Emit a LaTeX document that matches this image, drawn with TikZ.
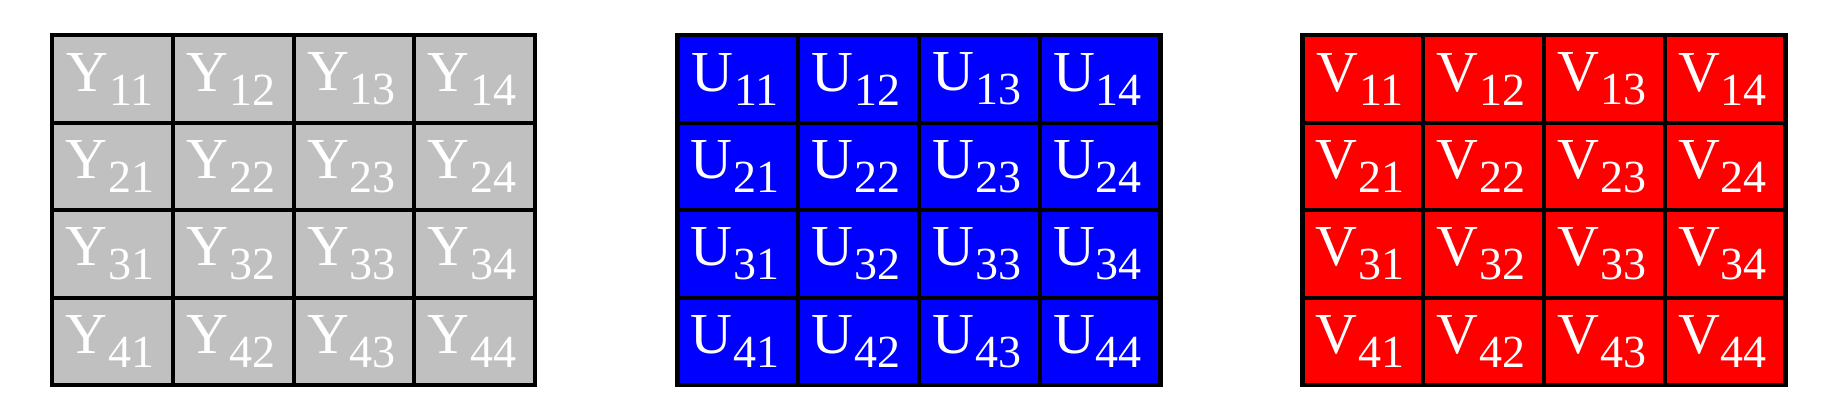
\documentclass[tikz,border=0pt]{standalone}
\usepackage{fontspec}
\setmainfont{Liberation Serif}
\definecolor{gY}{RGB}{192,192,192}
\definecolor{gU}{RGB}{0,0,255}
\definecolor{gV}{RGB}{255,0,0}
\newcommand\celltxt[2]{#1\kern1pt\raisebox{-14pt}{\fontsize{46}{46}\selectfont #2}\kern5pt}
\begin{document}
\begin{tikzpicture}[x=1pt,y=-1pt]
\useasboundingbox (0,0) rectangle (1833,417);
\tikzset{cell/.style={draw=black,line width=4.2pt,minimum width=120.75pt,minimum height=87.4pt,
  inner sep=0pt,text=white,font=\fontsize{58}{58}\selectfont,anchor=north west}}
\foreach \L/\col/\xo in {Y/gY/50, U/gU/675.3, V/gV/1300.3}{
  \foreach \r in {1,...,4}{
    \foreach \c in {1,...,4}{
      \node[cell,fill=\col] (\L\r\c) at ({\xo+(\c-1)*120.75},{33.3+(\r-1)*87.4}) {\celltxt{\L}{\r\c}};
    }
  }
}
\end{tikzpicture}
\end{document}
